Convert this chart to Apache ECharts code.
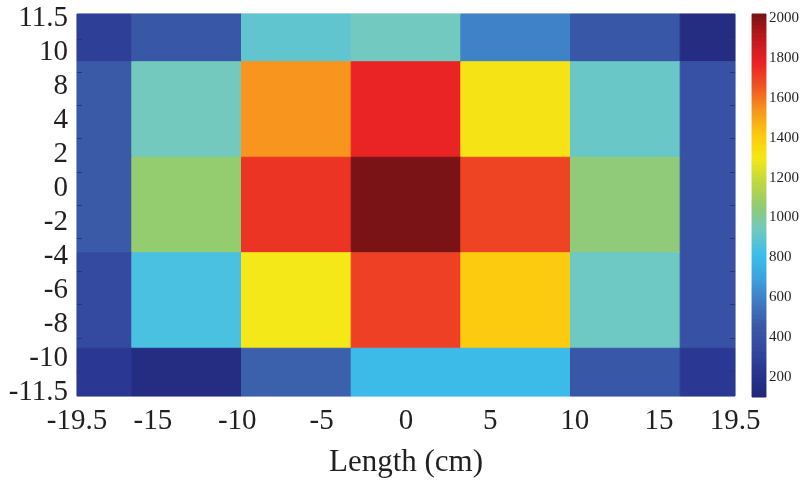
<!DOCTYPE html>
<html><head><meta charset="utf-8">
<script src="https://cdn.jsdelivr.net/npm/echarts@6/dist/echarts.min.js"></script>
<style>html,body{margin:0;padding:0;background:#fff}#c{width:803px;height:483px}</style>
</head><body><div id="c"></div>
<script>
// ---- data ----
const xCenters = [-19.5, -13, -6.5, 0, 6.5, 13, 19.5];
const yCenters = [11.5, 5.75, 0, -5.75, -11.5];
const row1 = [280, 440, 900, 940, 600, 440, 150];
const row2 = [460, 945, 1540, 1780, 1320, 920, 400];
const row3 = [460, 1065, 1740, 2020, 1700, 1050, 400];
const row4 = [340, 850, 1300, 1710, 1410, 930, 400];
const row5 = [240, 150, 480, 800, 800, 440, 240];
const rows = [row1, row2, row3, row4, row5];
const xTickLabels = [-19.5, -15, -10, -5, 0, 5, 10, 15, 19.5];
const yTickLabels = ['11.5', '10', '8', '4', '2', '0', '-2', '-4', '-6', '-8', '-10', '-11.5'];
const yTickMarks = [-10, -8, -6, -4, -2, 0, 2, 4, 6, 8, 10];
const cbTicks = [200, 400, 600, 800, 1000, 1200, 1400, 1600, 1800, 2000];
const cbMin = 100, cbMax = 2020;
const xName = 'Length (cm)';
const jet = ['#23277a', '#283590', '#3449a0', '#3a5aa8', '#3f7bc2', '#3ca4e0', '#3cbeea',
             '#72c9c0', '#92cb72', '#c0d840', '#f5e818', '#fdc80e', '#f7951e', '#f05523',
             '#ea2325', '#c01a1e', '#7a1315'];

// ---- build cells (edges at midpoints between centres, clipped to the axis range) ----
function edges(c) {
  const lo = Math.min(c[0], c[c.length - 1]), hi = Math.max(c[0], c[c.length - 1]);
  return c.map((v, i) => {
    const a = i > 0 ? (c[i - 1] + v) / 2 : v;
    const b = i < c.length - 1 ? (v + c[i + 1]) / 2 : v;
    return [Math.max(lo, Math.min(a, b)), Math.min(hi, Math.max(a, b))];
  });
}
const xe = edges(xCenters), ye = edges(yCenters);
const cells = [];
rows.forEach((r, j) => r.forEach((v, i) => cells.push([xe[i][0], xe[i][1], ye[j][0], ye[j][1], v])));
const bar = [];
for (let v = cbMin; v < cbMax; v += 4) bar.push([0, 1, v, Math.min(v + 4, cbMax), v + 2]);

const font = 'Liberation Serif, Times New Roman, serif';
const txt = '#231f20';
function rectItem(params, api) {
  const p0 = api.coord([api.value(0), api.value(3)]);
  const p1 = api.coord([api.value(1), api.value(2)]);
  const c = api.visual('color');
  return { type: 'rect', shape: { x: p0[0], y: p0[1], width: p1[0] - p0[0], height: p1[1] - p0[1] },
           style: { fill: c, stroke: c, lineWidth: 1, opacity: 1 } };
}

const chart = echarts.init(document.getElementById('c'));
chart.setOption({
  animation: false,
  grid: [
    { left: 77, top: 14, width: 658, height: 383, show: true, borderColor: '#cfcfcf', borderWidth: 1 },
    { left: 752, top: 14, width: 14, height: 383 },
    { left: 77, top: 18, width: 658, height: 374 }
  ],
  visualMap: { type: 'continuous', show: false, min: cbMin, max: cbMax, dimension: 4,
               seriesIndex: [0, 1], inRange: { color: jet } },
  xAxis: [
    { gridIndex: 0, type: 'value', min: -19.5, max: 19.5, splitLine: { show: false },
      axisLine: { show: false, onZero: false }, axisTick: { show: false },
      axisLabel: { customValues: xTickLabels, formatter: v => String(v), fontFamily: font,
                   fontSize: 29, color: txt, margin: 11 },
      name: xName, nameLocation: 'middle', nameGap: 51,
      nameTextStyle: { fontFamily: font, fontSize: 31, color: txt } },
    { gridIndex: 1, type: 'value', min: 0, max: 1, show: false },
    { gridIndex: 2, type: 'value', min: 0, max: 1, show: false }
  ],
  yAxis: [
    { gridIndex: 0, type: 'value', min: -11.5, max: 11.5, splitLine: { show: false }, z: 10,
      axisLine: { show: false, onZero: false }, axisLabel: { show: false },
      axisTick: { show: true, inside: true, length: 5, customValues: yTickMarks,
                  lineStyle: { color: '#2a3470', width: 1 } } },
    { gridIndex: 0, type: 'value', position: 'right', min: -11.5, max: 11.5, splitLine: { show: false }, z: 10,
      axisLine: { show: false, onZero: false }, axisLabel: { show: false },
      axisTick: { show: true, inside: true, length: 5, customValues: yTickMarks,
                  lineStyle: { color: '#2a3470', width: 1 } } },
    { gridIndex: 1, type: 'value', position: 'right', min: cbMin, max: cbMax, splitLine: { show: false },
      axisLine: { show: false, onZero: false }, axisTick: { show: false },
      axisLabel: { customValues: cbTicks, formatter: v => String(v), fontFamily: font,
                   fontSize: 15, color: txt, margin: 3 } },
    { gridIndex: 2, type: 'category', boundaryGap: false, data: yTickLabels.slice().reverse(),
      axisLine: { show: false, onZero: false }, axisTick: { show: false }, splitLine: { show: false },
      axisLabel: { interval: 0, fontFamily: font, fontSize: 29, color: txt, margin: 9 } }
  ],
  series: [
    { type: 'custom', xAxisIndex: 0, yAxisIndex: 0, data: cells, renderItem: rectItem, z: 1,
      encode: { x: [0, 1], y: [2, 3] } },
    { type: 'custom', xAxisIndex: 1, yAxisIndex: 2, data: bar, renderItem: rectItem,
      encode: { x: [0, 1], y: [2, 3] } }
  ]
});
</script></body></html>
